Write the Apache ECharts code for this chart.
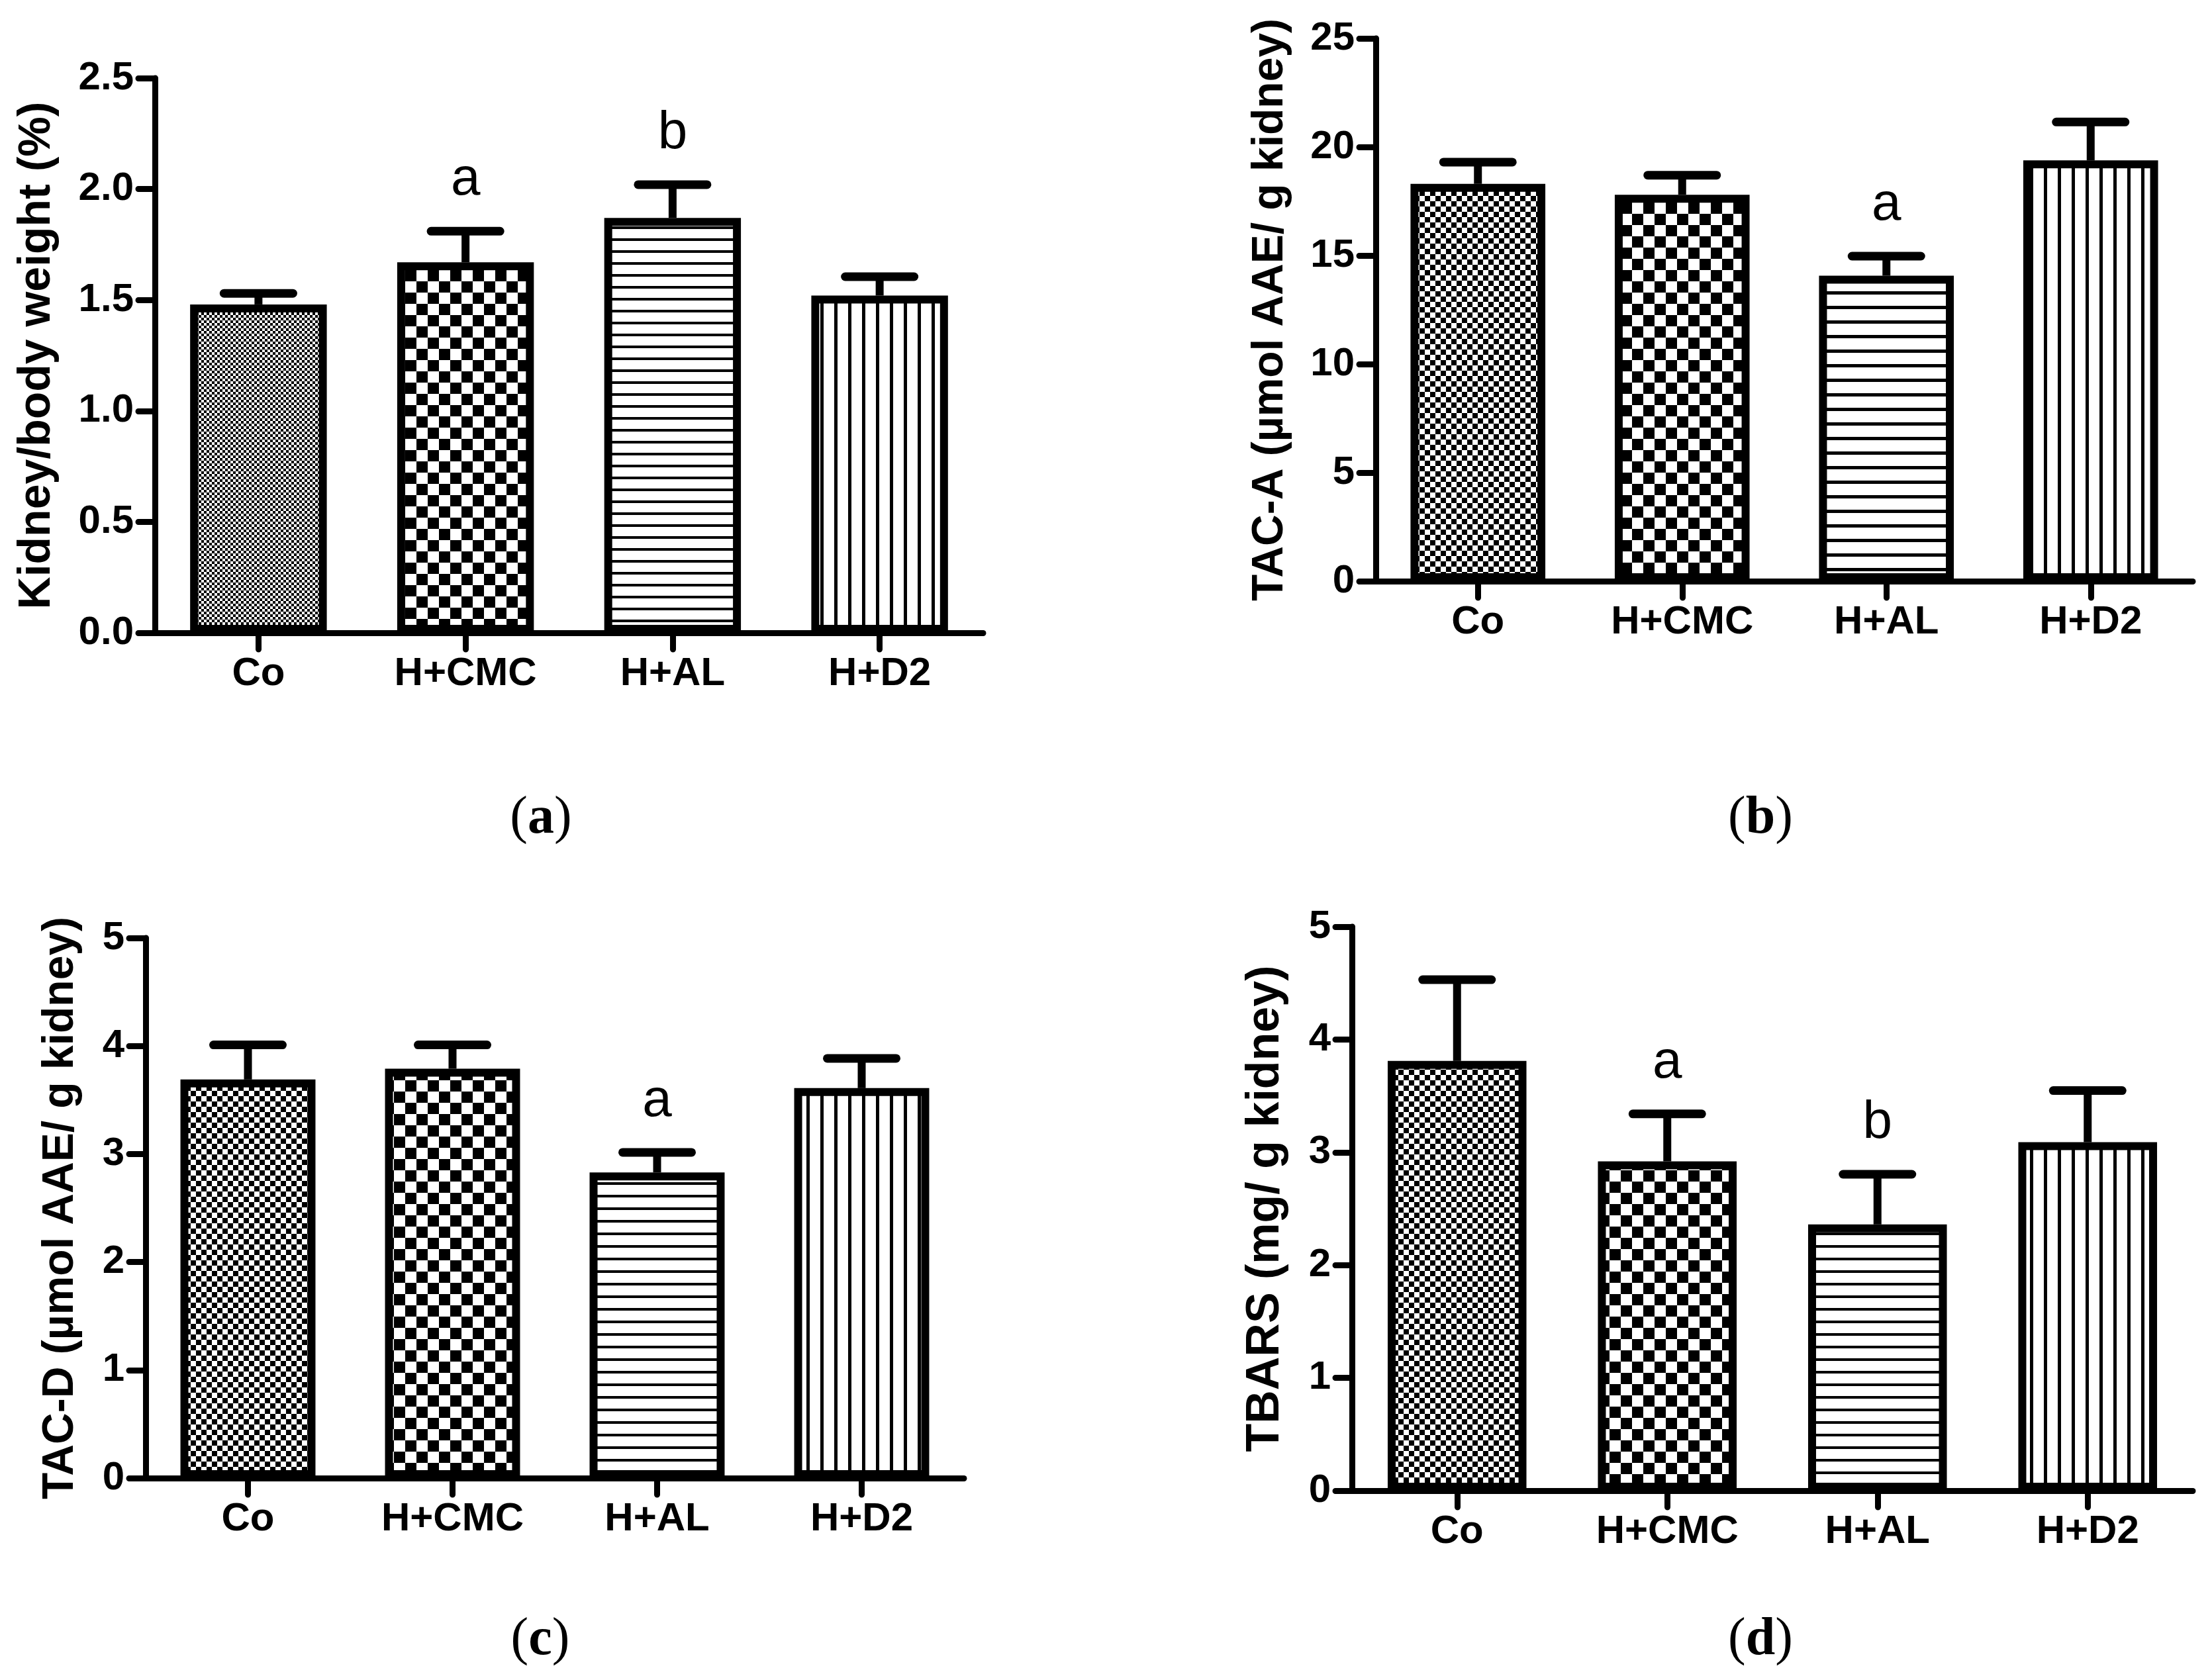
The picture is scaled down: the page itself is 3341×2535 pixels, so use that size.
<!DOCTYPE html>
<html><head><meta charset="utf-8">
<script src="https://cdn.jsdelivr.net/npm/echarts@6/dist/echarts.min.js"></script>
<style>html,body{margin:0;padding:0;background:#fff}#c{width:3341px;height:2535px}</style>
</head><body><div id="c"></div>
<script>
// ---------- data ----------
const categories = ['Co', 'H+CMC', 'H+AL', 'H+D2'];

const kidneyRatioMean = [1.48, 1.67, 1.87, 1.52];
const kidneyRatioSem  = [0.05, 0.14, 0.15, 0.085];
const kidneyRatioSig  = ['', 'a', 'b', ''];
const kidneyRatioTicks = ['0.0', '0.5', '1.0', '1.5', '2.0', '2.5'];

const tacAMean = [18.3, 17.8, 14.07, 19.38];
const tacASem  = [1.0, 0.9, 0.9, 1.77];
const tacASig  = ['', '', 'a', ''];
const tacATicks = ['0', '5', '10', '15', '20', '25'];

const tacDMean = [3.69, 3.79, 2.83, 3.61];
const tacDSem  = [0.32, 0.22, 0.185, 0.275];
const tacDSig  = ['', '', 'a', ''];
const tacDTicks = ['0', '1', '2', '3', '4', '5'];

const tbarsMean = [3.81, 2.92, 2.36, 3.09];
const tbarsSem  = [0.72, 0.42, 0.445, 0.457];
const tbarsSig  = ['', 'a', 'b', ''];
const tbarsTicks = ['0', '1', '2', '3', '4', '5'];

const axisTitles = ['Kidney/body weight (%)', 'TAC-A (µmol AAE/ g kidney)', 'TAC-D (µmol AAE/ g kidney)', 'TBARS (mg/ g kidney)'];
const panelLetters = ['a', 'b', 'c', 'd'];

// ---------- layout / style ----------
const panels = [
  {mean: kidneyRatioMean, sem: kidneyRatioSem, sig: kidneyRatioSig, ticks: kidneyRatioTicks,
   left: 234, top: 118, width: 1251, height: 838, nameGap: 144, nameSize: 68,
   pat: {co: 4, cmc: 17, hp: 18, ht: 4, vp: 21, vt: 5}, lx: 817, ly: 1237},
  {mean: tacAMean, sem: tacASem, sig: tacASig, ticks: tacATicks,
   left: 2078, top: 58, width: 1234, height: 820, nameGap: 126, nameSize: 66,
   pat: {co: 8, cmc: 17, hp: 22, ht: 5, vp: 21, vt: 5}, lx: 2659, ly: 1237},
  {mean: tacDMean, sem: tacDSem, sig: tacDSig, ticks: tacDTicks,
   left: 220, top: 1417, width: 1236, height: 816, nameGap: 95, nameSize: 66,
   pat: {co: 8, cmc: 17, hp: 19, ht: 4, vp: 21, vt: 5}, lx: 816, ly: 2478},
  {mean: tbarsMean, sem: tbarsSem, sig: tbarsSig, ticks: tbarsTicks,
   left: 2042, top: 1400, width: 1270, height: 852, nameGap: 95, nameSize: 70,
   pat: {co: 8, cmc: 17, hp: 19, ht: 4, vp: 21, vt: 5}, lx: 2659, ly: 2478}
];

function makeCanvas(w, h, draw) {
  const c = document.createElement('canvas');
  c.width = w; c.height = h;
  const g = c.getContext('2d');
  g.fillStyle = '#fff'; g.fillRect(0, 0, w, h);
  g.fillStyle = '#000'; draw(g, w, h);
  return c;
}
function checker(s) {
  return makeCanvas(2 * s, 2 * s, g => { g.fillRect(0, 0, s, s); g.fillRect(s, s, s, s); });
}
function hStripes(p, t) { return makeCanvas(8, p, g => g.fillRect(0, 0, 8, t)); }
function vStripes(p, t) { return makeCanvas(p, 8, g => g.fillRect(0, 0, t, 8)); }

const SANS = '"Liberation Sans", Arial, Helvetica, sans-serif';
const SERIF = '"Liberation Serif", "Times New Roman", serif';

const option = {
  backgroundColor: '#fff',
  animation: false,
  grid: [], xAxis: [], yAxis: [], series: [], graphic: []
};

panels.forEach((p, k) => {
  const step = parseFloat(p.ticks[1]);
  const maxV = parseFloat(p.ticks[p.ticks.length - 1]);
  const patterns = [
    {image: checker(p.pat.co), repeat: 'repeat'},
    {image: checker(p.pat.cmc), repeat: 'repeat'},
    {image: hStripes(p.pat.hp, p.pat.ht), repeat: 'repeat'},
    {image: vStripes(p.pat.vp, p.pat.vt), repeat: 'repeat'}
  ];
  option.grid.push({left: p.left, top: p.top, width: p.width, height: p.height, containLabel: false});
  option.xAxis.push({
    type: 'category', gridIndex: k, data: categories, boundaryGap: true,
    axisLine: {show: true, onZero: false, lineStyle: {color: '#000', width: 9, cap: 'round'}},
    axisTick: {show: true, alignWithLabel: true, length: 25, lineStyle: {color: '#000', width: 9, cap: 'round'}},
    axisLabel: {color: '#000', fontFamily: SANS, fontWeight: 'bold', fontSize: 60, margin: 32},
    splitLine: {show: false}
  });
  option.yAxis.push({
    type: 'value', gridIndex: k, min: 0, max: maxV, interval: step,
    name: axisTitles[k], nameLocation: 'middle', nameRotate: 90, nameGap: p.nameGap,
    nameTextStyle: {color: '#000', fontFamily: SANS, fontWeight: 'bold', fontSize: p.nameSize},
    axisLine: {show: true, lineStyle: {color: '#000', width: 9, cap: 'round'}},
    axisTick: {show: true, length: 25, lineStyle: {color: '#000', width: 9, cap: 'round'}},
    axisLabel: {color: '#000', fontFamily: SANS, fontWeight: 'bold', fontSize: 60, margin: 32,
      formatter: v => p.ticks[Math.round(v / step)]},
    splitLine: {show: false}
  });
  option.series.push({
    type: 'bar', xAxisIndex: k, yAxisIndex: k, barWidth: '66%', z: 3,
    data: p.mean.map((v, i) => ({value: v, itemStyle: {color: patterns[i]}})),
    itemStyle: {borderColor: '#000', borderWidth: 12}
  });
  option.series.push({
    type: 'custom', xAxisIndex: k, yAxisIndex: k, z: 4, clip: false,
    data: p.mean.map((v, i) => [i, v, p.sem[i]]),
    renderItem: (params, api) => {
      const i = api.value(0), m = api.value(1), e = api.value(2);
      const base = api.coord([i, m]);
      const top = api.coord([i, m + e]);
      const children = [
        {type: 'line', shape: {x1: base[0], y1: base[1], x2: top[0], y2: top[1]},
         style: {stroke: '#000', lineWidth: 12}},
        {type: 'line', shape: {x1: top[0] - 52, y1: top[1], x2: top[0] + 52, y2: top[1]},
         style: {stroke: '#000', lineWidth: 13, lineCap: 'round'}}
      ];
      const lab = p.sig[params.dataIndex];
      if (lab) {
        children.push({type: 'text', x: top[0], y: top[1] - 77,
          style: {text: lab, fontFamily: SANS, fontSize: 80, fill: '#000', align: 'center', verticalAlign: 'middle'}});
      }
      return {type: 'group', children};
    }
  });
  option.graphic.push({
    type: 'text', x: p.lx, y: p.ly,
    style: {
      text: '{p|(}{l|' + panelLetters[k] + '}{p|)}',
      align: 'center', verticalAlign: 'middle',
      rich: {
        p: {fontFamily: SERIF, fontSize: 80, fill: '#000'},
        l: {fontFamily: SERIF, fontSize: 80, fontWeight: 'bold', fill: '#000'}
      }
    }
  });
});

const chart = echarts.init(document.getElementById('c'), null, {renderer: 'canvas'});
chart.setOption(option);
</script>
</body></html>
